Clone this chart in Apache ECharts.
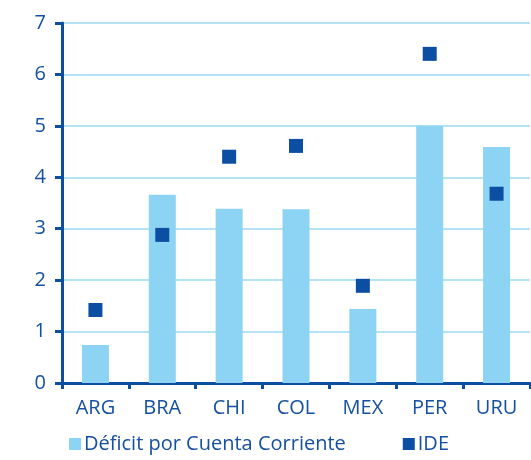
<!DOCTYPE html>
<html>
<head>
<meta charset="utf-8">
<script src="https://cdn.jsdelivr.net/npm/echarts@6/dist/echarts.min.js"></script>
<style>
  html, body { margin: 0; padding: 0; background: #fff; }
  #chart { width: 531px; height: 460px; }
</style>
</head>
<body>
<div id="chart"></div>
<script>
// Countries on the category axis
const categories = ['ARG', 'BRA', 'CHI', 'COL', 'MEX', 'PER', 'URU'];
// Current account deficit (bars)
const deficitCuentaCorriente = [0.74, 3.66, 3.39, 3.38, 1.44, 5.0, 4.59];
// Foreign direct investment (square markers)
const ide = [1.42, 2.88, 4.40, 4.61, 1.89, 6.40, 3.68];
// Value axis ticks
const yTicks = [0, 1, 2, 3, 4, 5, 6, 7];

const axisBlue = '#0B4EA2';
const textBlue = '#1650A0';
const barBlue = '#8DD3F3';
const gridBlue = '#B5E3F6';
const fontFamily = '"Open Sans", "Noto Sans", sans-serif';

const chart = echarts.init(document.getElementById('chart'), null, { renderer: 'canvas' });
chart.setOption({
  animation: false,
  backgroundColor: '#fff',
  grid: { left: 62, right: 1, top: 23, bottom: 77, containLabel: false },
  legend: {
    bottom: 1,
    left: 64,
    itemWidth: 12,
    itemHeight: 12,
    itemGap: 57,
    textStyle: { color: textBlue, fontSize: 20, fontFamily: fontFamily, padding: [0, 0, 0, -2] },
    data: [
      { name: 'Déficit por Cuenta Corriente', icon: 'rect' },
      { name: 'IDE', icon: 'rect' }
    ]
  },
  xAxis: {
    type: 'category',
    data: categories,
    boundaryGap: true,
    axisLine: { lineStyle: { color: axisBlue, width: 3 } },
    axisTick: { show: true, inside: false, length: 6, lineStyle: { color: axisBlue, width: 3 } },
    axisLabel: { color: textBlue, fontSize: 20, fontFamily: fontFamily, margin: 15 },
    splitLine: { show: false }
  },
  yAxis: {
    type: 'value',
    min: yTicks[0],
    max: yTicks[yTicks.length - 1],
    interval: 1,
    axisLine: { show: true, lineStyle: { color: axisBlue, width: 3 } },
    axisTick: { show: true, length: 7, lineStyle: { color: axisBlue, width: 3 } },
    axisLabel: { color: textBlue, fontSize: 20, fontFamily: fontFamily, margin: 16 },
    splitLine: { show: true, lineStyle: { color: gridBlue, width: 2 } }
  },
  series: [
    {
      name: 'Déficit por Cuenta Corriente',
      type: 'bar',
      data: deficitCuentaCorriente,
      barWidth: 27,
      itemStyle: { color: barBlue },
      z: 2
    },
    {
      name: 'IDE',
      type: 'scatter',
      data: ide,
      symbol: 'rect',
      symbolSize: 14,
      itemStyle: { color: axisBlue, opacity: 1 },
      z: 3
    }
  ]
});
</script>
</body>
</html>
